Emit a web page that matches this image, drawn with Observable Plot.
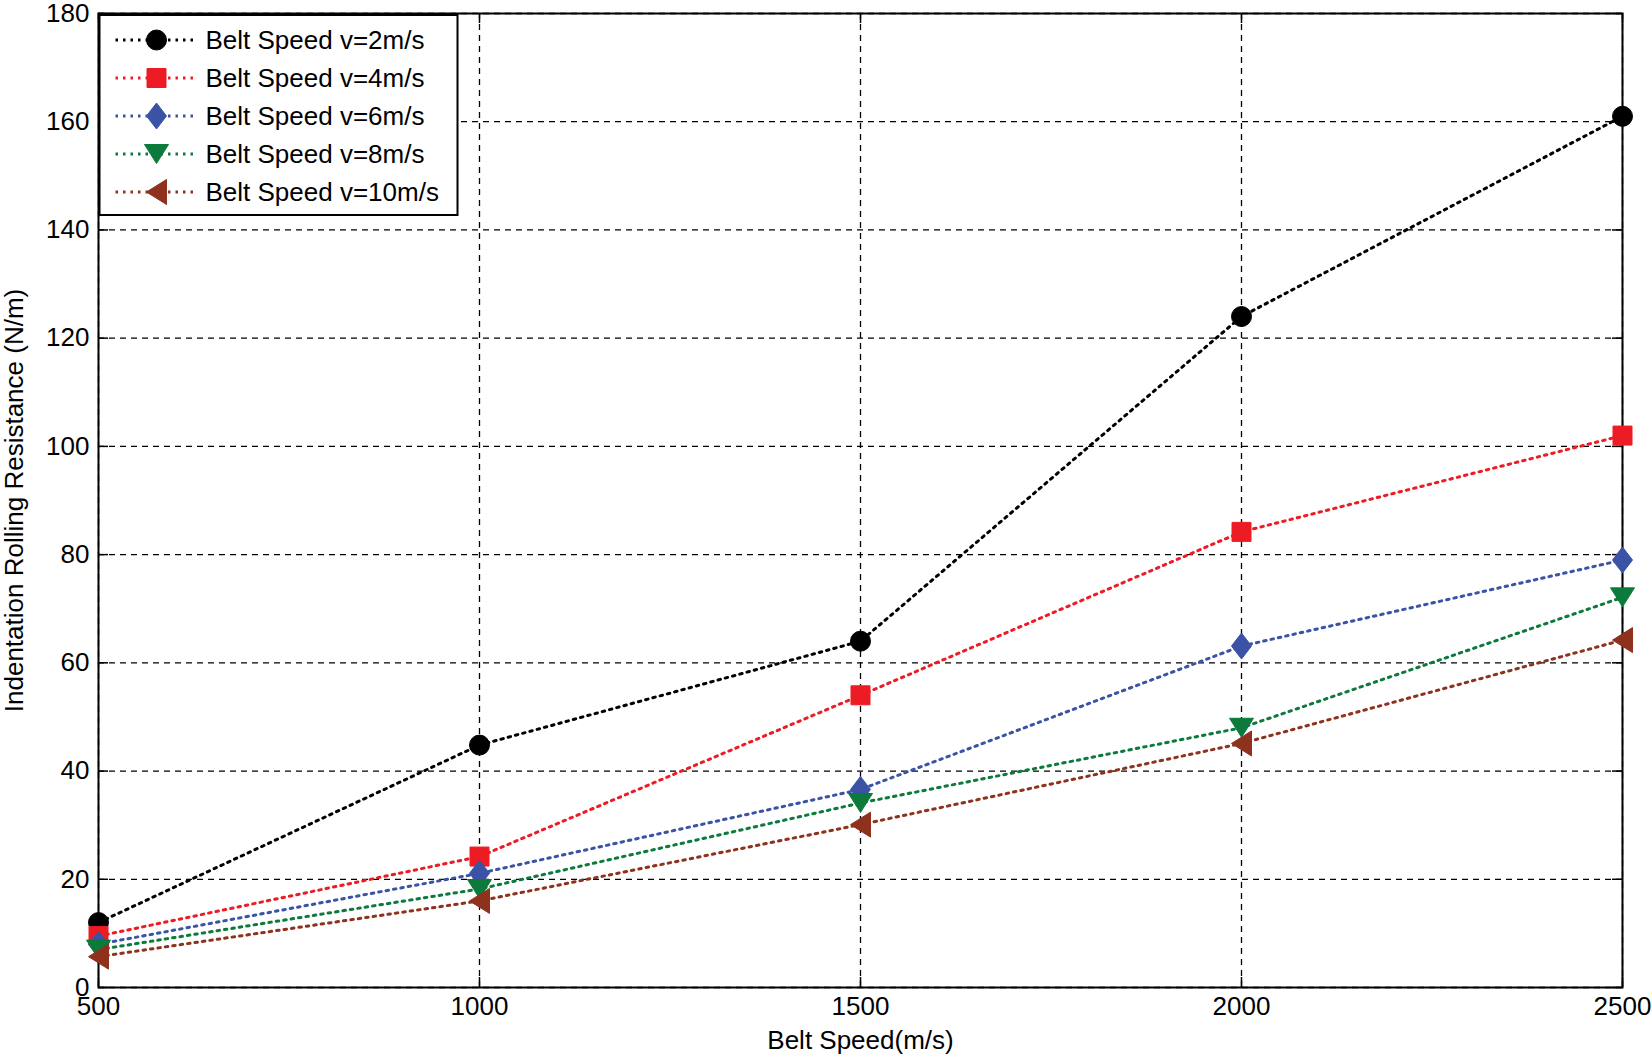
<!DOCTYPE html>
<html><head><meta charset="utf-8">
<script src="https://cdn.jsdelivr.net/npm/d3@7"></script>
<script src="https://cdn.jsdelivr.net/npm/@observablehq/plot@0.6"></script>
<style>
body{margin:0;background:#fff;}
#wrap{position:relative;width:1652px;height:1060px;}
#wrap svg.overlay{position:absolute;left:0;top:0;pointer-events:none;}
</style></head><body><div id="wrap"></div>
<script>
// ---- data ----
const beltSpeed = [500, 1000, 1500, 2000, 2500];
const seriesNames = ["Belt Speed v=2m/s", "Belt Speed v=4m/s", "Belt Speed v=6m/s", "Belt Speed v=8m/s", "Belt Speed v=10m/s"];
const v2  = [12, 44.8, 64, 124, 161];
const v4  = [9.5, 24.2, 54, 84.2, 102];
const v6  = [8, 21.1, 36.6, 63.1, 79];
const v8  = [7, 18.2, 34.1, 48, 72.1];
const v10 = [5.7, 16, 30.1, 45.1, 64.2];
const xTicks = [500, 1000, 1500, 2000, 2500];
const yTicks = [0, 20, 40, 60, 80, 100, 120, 140, 160, 180];
const xLabel = "Belt Speed(m/s)";
const yLabel = "Indentation Rolling Resistance (N/m)";

// ---- styles ----
const colors = ["#000000", "#ed1c24", "#3a53a4", "#0c7a3b", "#8e321e"];
function shape(points) {
  return {draw(ctx, size) {
    const k = Math.sqrt(size / Math.PI) / 10;
    ctx.moveTo(points[0][0] * k, points[0][1] * k);
    for (let i = 1; i < points.length; i++) ctx.lineTo(points[i][0] * k, points[i][1] * k);
    ctx.closePath();
  }};
}
const circle = {draw(ctx, size) { const r = Math.sqrt(size / Math.PI); ctx.moveTo(r, 0); ctx.arc(0, 0, r, 0, 2 * Math.PI); }};
const square = shape([[-9.5, -9.5], [9.5, -9.5], [9.5, 9.5], [-9.5, 9.5]]);
const diamond = shape([[0, -13], [10, 0], [0, 13], [-10, 0]]);
const triDown = shape([[-12, -9.5], [12, -9.5], [0, 9.5]]);
const triLeft = shape([[-10, 0], [10, -12.5], [10, 12.5]]);
const symbols = [circle, square, diamond, triDown, triLeft];

const allValues = [v2, v4, v6, v8, v10];
const series = seriesNames.map((name, i) => ({
  name, color: colors[i], symbol: symbols[i],
  rows: beltSpeed.map((x, j) => ({x, y: allValues[i][j], name}))
}));

const W = 1652, H = 1060, mL = 98, mR = 30, mT = 13, mB = 73;
const pw = W - mL - mR, ph = H - mT - mB;
const font = "'Liberation Sans', Arial, Helvetica, sans-serif";

const chart = Plot.plot({
  width: W, height: H,
  marginLeft: mL, marginRight: mR, marginTop: mT, marginBottom: mB,
  style: {fontFamily: font, fontSize: "26px", background: "#fff", color: "#000"},
  x: {domain: [500, 2500]},
  y: {domain: [0, 180]},
  marks: [
    Plot.gridX(xTicks, {stroke: "#000", strokeOpacity: 1, strokeWidth: 1.3, strokeDasharray: "6,5"}),
    Plot.gridY(yTicks, {stroke: "#000", strokeOpacity: 1, strokeWidth: 1.3, strokeDasharray: "6,5"}),
    Plot.tickX(xTicks, {x: d => d, insetTop: ph - 10, stroke: "#000", strokeWidth: 1.5}),
    Plot.tickX(xTicks, {x: d => d, insetBottom: ph - 10, stroke: "#000", strokeWidth: 1.5}),
    Plot.tickY(yTicks, {y: d => d, insetRight: pw - 10, stroke: "#000", strokeWidth: 1.5}),
    Plot.tickY(yTicks, {y: d => d, insetLeft: pw - 10, stroke: "#000", strokeWidth: 1.5}),
    Plot.frame({stroke: "#000", strokeWidth: 2}),
    Plot.axisX({ticks: xTicks, tickSize: 0, tickPadding: 9, tickFormat: d3.format("d"), label: null, fontSize: 26}),
    Plot.axisY({ticks: yTicks, tickSize: 0, tickPadding: 9, tickFormat: d3.format("d"), label: null, fontSize: 26}),
    Plot.text([xLabel], {text: d => d, frameAnchor: "bottom", dy: 61, fontSize: 26, fill: "#000"}),
    Plot.text([yLabel], {text: d => d, frameAnchor: "left", textAnchor: "middle", dx: -84, rotate: -90, fontSize: 26, fill: "#000"}),
    ...series.map(s => Plot.line(s.rows, {x: "x", y: "y", stroke: s.color, strokeWidth: 3, strokeDasharray: "2.5,5"})),
    ...series.map(s => Plot.dot(s.rows, {x: "x", y: "y", symbol: s.symbol, r: 10, fill: s.color, stroke: s.color, strokeWidth: 1}))
  ]
});
const wrap = document.getElementById("wrap");
wrap.appendChild(chart);

// ---- legend (inside the plot area, top-left) ----
const lg = d3.select(wrap).append("svg").attr("class", "overlay").attr("width", W).attr("height", H);
const bx = 99.5, by = 15, bw = 358, bh = 200;
lg.append("rect").attr("x", bx).attr("y", by).attr("width", bw).attr("height", bh)
  .attr("fill", "#fff").attr("stroke", "#000").attr("stroke-width", 2);
series.forEach((s, i) => {
  const cy = by + 25 + i * 38;
  const g = lg.append("g");
  g.append("line").attr("x1", bx + 16).attr("x2", bx + 97).attr("y1", cy).attr("y2", cy)
    .attr("stroke", s.color).attr("stroke-width", 3).attr("stroke-dasharray", "2.5,5");
  g.append("path").attr("transform", `translate(${bx + 57},${cy})`)
    .attr("d", d3.symbol().type(s.symbol).size(Math.PI * 100)())
    .attr("fill", s.color).attr("stroke", s.color);
  g.append("text").attr("x", bx + 106).attr("y", cy).attr("dy", "0.35em")
    .attr("font-family", font).attr("font-size", 26).attr("fill", "#000").text(s.name);
});
</script></body></html>
